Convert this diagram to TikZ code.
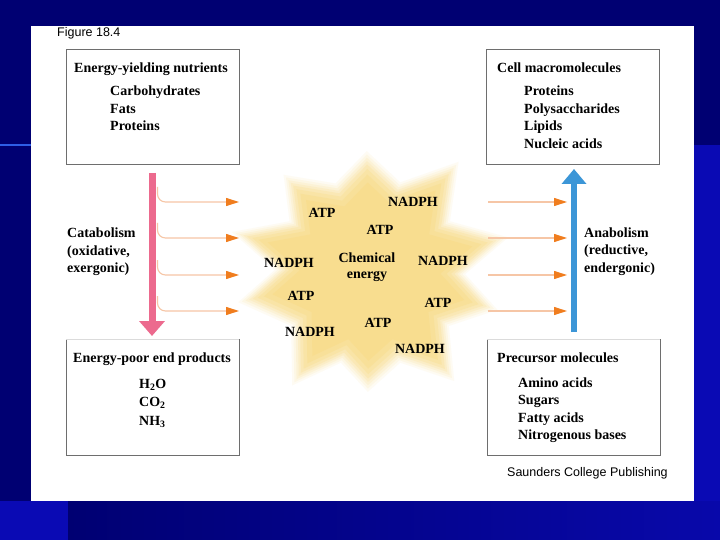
\documentclass[tikz,border=0pt]{standalone}
\usepackage{fontspec}
\setmainfont{Liberation Serif}
\newfontfamily\capfont{Liberation Sans}
\usetikzlibrary{arrows.meta}
\definecolor{navy}{HTML}{000072}
\definecolor{brightblue}{HTML}{0A0AB4}
\definecolor{edgeblue}{HTML}{2E5EE6}
\definecolor{pinkarrow}{HTML}{EC6A8E}
\definecolor{bluearrow}{HTML}{3C96D7}
\definecolor{peach}{HTML}{F6C6A6}
\definecolor{orangetip}{HTML}{F07D1E}
\definecolor{staryellow}{HTML}{F8D46C}
\definecolor{boxgray}{HTML}{6E6E6E}
\newcommand{\starshape}{(-3,-112) -- (-32,-82) -- (-80,-90) -- (-74.5,-47) -- (-128,-37) -- (-88,-2) -- (-122,28) -- (-73,50) -- (-72,105) -- (-27,84) -- (-2,111) -- (28,84) -- (78,101) -- (73,50) -- (118,35) -- (88,2) -- (128,-32) -- (74,-47) -- (82,-102) -- (28,-83) -- cycle}
\tikzset{
  lbl/.style={font=\fontsize{14}{16}\selectfont\bfseries, inner sep=0pt, anchor=base west},
  slbl/.style={font=\fontsize{14}{16}\selectfont\bfseries, inner sep=0pt, anchor=base},
  caplbl/.style={font=\capfont\fontsize{12.5}{15}\selectfont, inner sep=0pt, anchor=base west},
  boxnode/.style={draw=none, inner sep=0pt, anchor=north west, minimum width=173pt, minimum height=115pt},
  boxline/.style={draw=boxgray, line width=0.9pt},
  feed/.style={draw=peach, line width=1.1pt, rounded corners=8pt, -{Triangle[length=13pt,width=8pt,color=orangetip]}},
}
\begin{document}
\begin{tikzpicture}[x=1pt,y=-1pt]
\useasboundingbox (0,0) rectangle (720,540);
% background
\fill[navy] (0,0) rectangle (720,540);
\fill[brightblue] (694,145) rectangle (720,540);
\shade[left color=navy, right color=brightblue!85!navy] (68,501) rectangle (720,540);
\fill[brightblue] (0,501) rectangle (68,540);
\draw[edgeblue, line width=2pt] (0,145) -- (31,145);
\fill[white] (31,26) rectangle (694,501);

% star (soft edged)
\foreach \s/\o in {1.08/0.08,1.05/0.1,1.02/0.12,0.99/0.15,0.96/0.18,0.92/0.2,0.87/0.22,0.80/0.22}
  \fill[staryellow, opacity=\o, shift={(370,272)}, scale=\s] \starshape;

% boxes
\node[boxnode] (tl) at (66,49) {};
\node[boxnode] (tr) at (486,49) {};
\node[boxnode, minimum height=116pt] (bl) at (66,339) {};
\node[boxnode, minimum height=116pt] (br) at (487,339) {};
\draw[boxline] (tl.north west) rectangle (tl.south east);
\draw[boxline] (tr.north west) rectangle (tr.south east);
\draw[boxline] (bl.north west) -- (bl.south west) -- (bl.south east) -- (bl.north east);
\draw[boxline] (br.north west) -- (br.south west) -- (br.south east) -- (br.north east);
\draw[boxgray!25, line width=0.6pt] (bl.north west) -- (bl.north east);
\draw[boxgray!25, line width=0.6pt] (br.north west) -- (br.north east);

% captions
\node[caplbl] (fig) at (57,37) {Figure 18.4};
\node[caplbl] (pub) at (507,476) {Saunders College Publishing};

% box texts
\node[lbl] (tlh) at (74,72.7) {Energy-yielding nutrients};
\node[lbl] (tl1) at (110,96) {Carbohydrates};
\node[lbl] (tl2) at (110,113.5) {Fats};
\node[lbl] (tl3) at (110,131) {Proteins};

\node[lbl] (trh) at (497,72.7) {Cell macromolecules};
\node[lbl] (tr1) at (524,96) {Proteins};
\node[lbl] (tr2) at (524,113.5) {Polysaccharides};
\node[lbl] (tr3) at (524,131) {Lipids};
\node[lbl] (tr4) at (524,148.5) {Nucleic acids};

\node[lbl] (blh) at (73,362) {Energy-poor end products};
\node[lbl] (bl1) at (139,388) {H\textsubscript{2}O};
\node[lbl] (bl2) at (139,406.5) {CO\textsubscript{2}};
\node[lbl] (bl3) at (139,425) {NH\textsubscript{3}};

\node[lbl] (brh) at (497,362) {Precursor molecules};
\node[lbl] (br1) at (518,387) {Amino acids};
\node[lbl] (br2) at (518,404.5) {Sugars};
\node[lbl] (br3) at (518,422) {Fatty acids};
\node[lbl] (br4) at (518,439.5) {Nitrogenous bases};

% side labels
\node[lbl] (cat1) at (67,237.5) {Catabolism};
\node[lbl] (cat2) at (67,255) {(oxidative,};
\node[lbl] (cat3) at (67,272.5) {exergonic)};
\node[lbl] (ana1) at (584,237) {Anabolism};
\node[lbl] (ana2) at (584,254.5) {(reductive,};
\node[lbl] (ana3) at (584,272) {endergonic)};

% star texts
\node[slbl] (s1) at (322,218) {ATP};
\node[slbl] (s2) at (413,207) {NADPH};
\node[slbl] (s3) at (380,234) {ATP};
\node[slbl] (s4) at (367,262) {Chemical};
\node[slbl] (s5) at (367,278) {energy};
\node[slbl] (s6) at (289,267) {NADPH};
\node[slbl] (s7) at (443,265) {NADPH};
\node[slbl] (s8) at (301,300) {ATP};
\node[slbl] (s9) at (438,307) {ATP};
\node[slbl] (s10) at (378,327) {ATP};
\node[slbl] (s11) at (310,336) {NADPH};
\node[slbl] (s12) at (420,353) {NADPH};

% main arrows
\coordinate (catTop) at (152,173);
\coordinate (catBot) at (152,336);
\coordinate (anaBot) at (574,332);
\coordinate (anaTop) at (574,169);
\draw[pinkarrow, line width=7pt, -{Triangle[length=15pt,width=25pt]}] (catTop) -- (catBot);
\draw[bluearrow, line width=6pt, -{Triangle[length=15pt,width=24pt]}] (anaBot) -- (anaTop);

% feeder arrows
\foreach \i/\y in {1/202,2/238,3/275,4/311}{
  \coordinate (ls\i) at (157.5,\y-15);
  \coordinate (le\i) at (239,\y);
  \coordinate (rs\i) at (488,\y);
  \coordinate (re\i) at (567,\y);
  \draw[feed] (ls\i) |- (le\i);
  \draw[feed] (rs\i) -- (re\i);
}
\end{tikzpicture}
\end{document}
